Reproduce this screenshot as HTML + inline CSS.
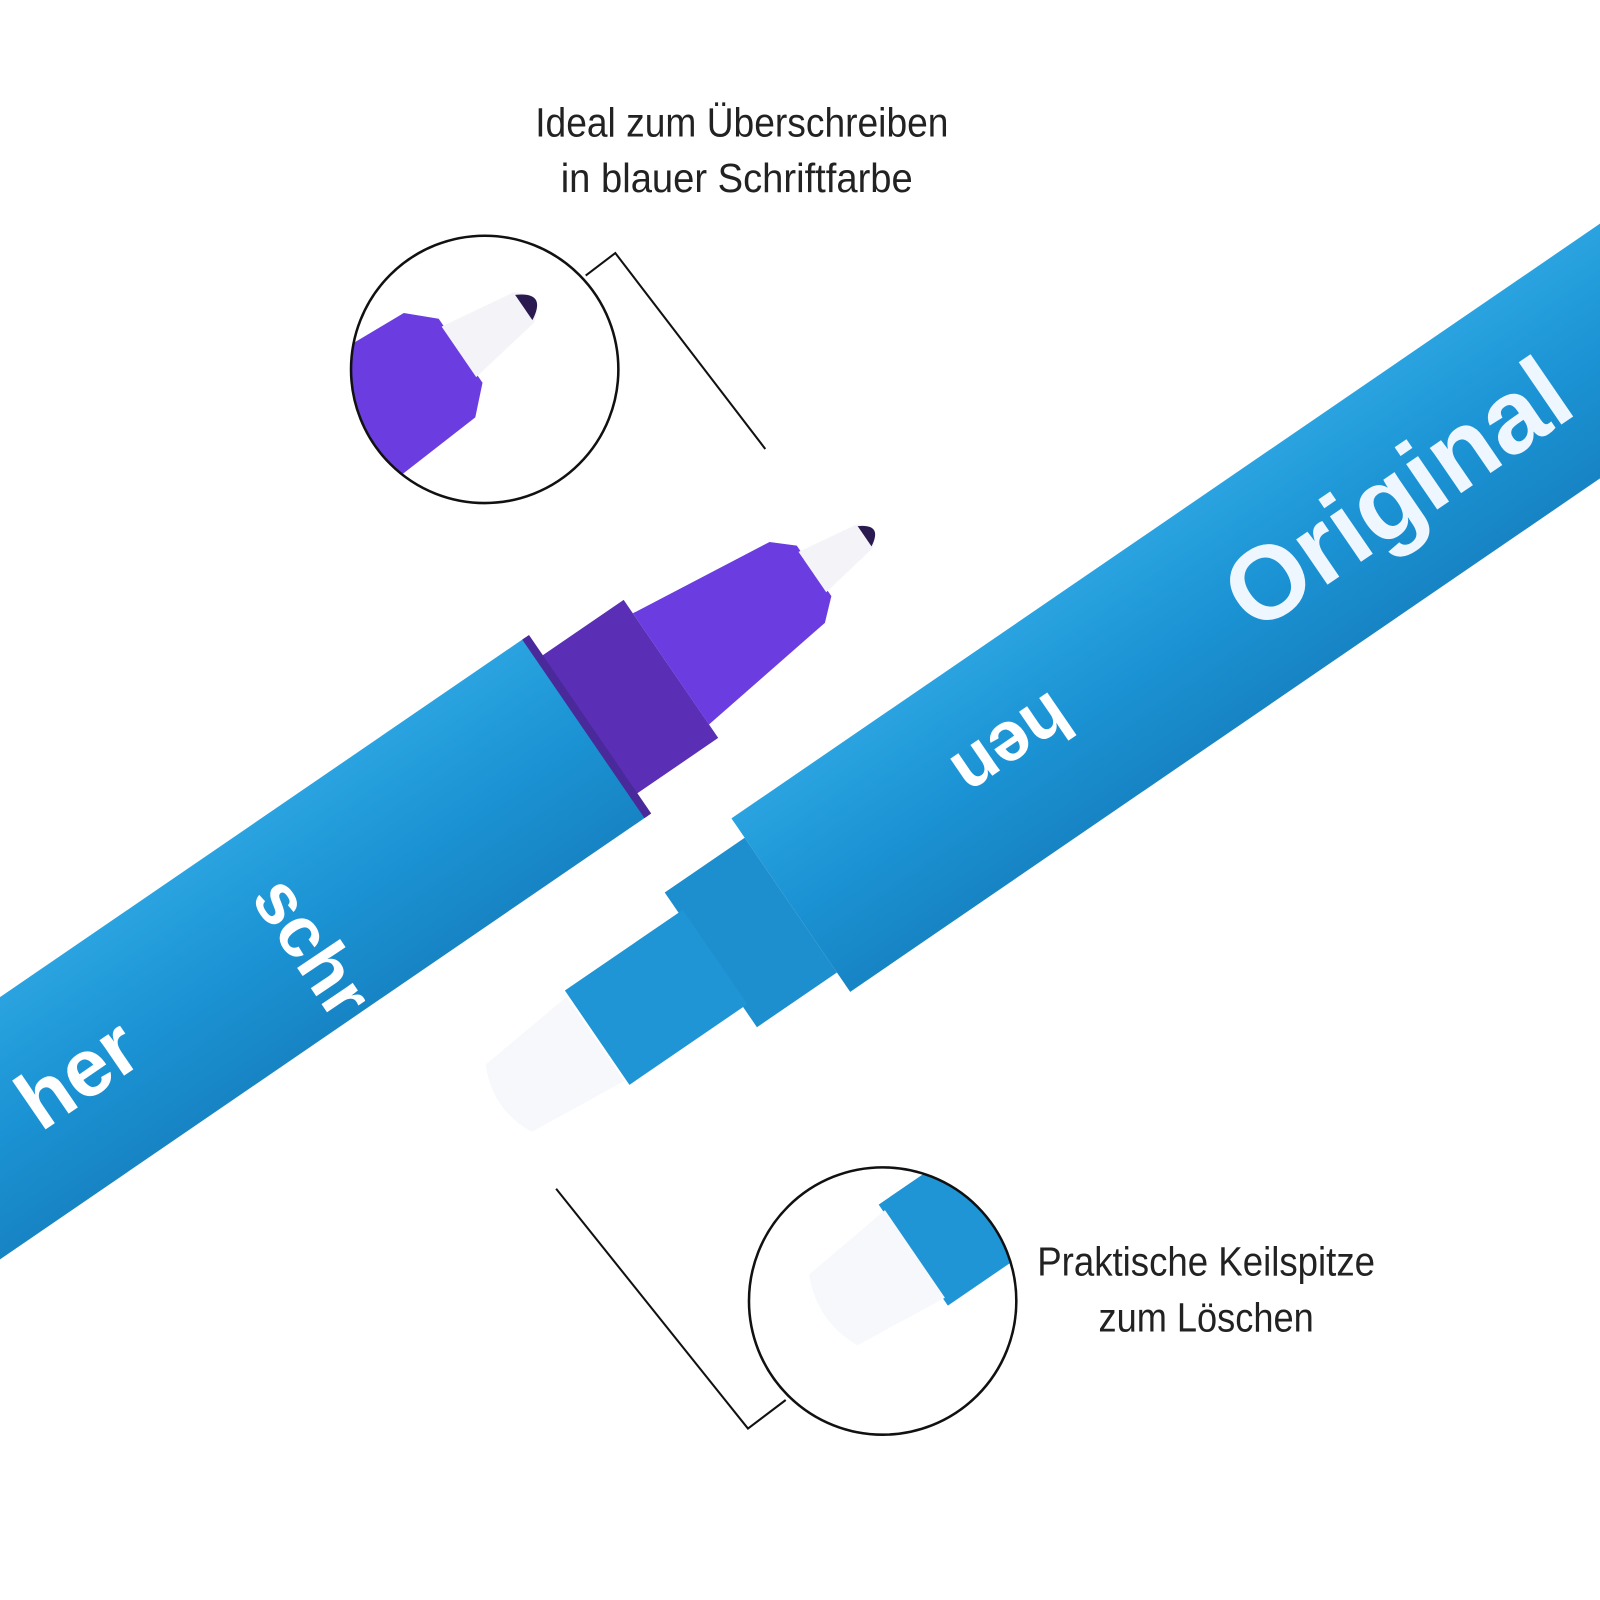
<!DOCTYPE html>
<html><head><meta charset="utf-8"><style>
html,body{margin:0;padding:0;background:#fff;}
svg{display:block;}
text{font-family:"Liberation Sans",sans-serif;}
</style></head><body>
<svg width="1600" height="1600" viewBox="0 0 1568 1568" xmlns="http://www.w3.org/2000/svg">
<defs>
<clipPath id="c1"><circle cx="475" cy="362" r="131"/></clipPath>
<clipPath id="c2"><circle cx="865" cy="1275" r="131"/></clipPath>
<linearGradient id="blu" x1="0" y1="0" x2="0" y2="1">
<stop offset="0" stop-color="#2aa3e0"/><stop offset="0.5" stop-color="#1b93d4"/><stop offset="1" stop-color="#1784c4"/></linearGradient>
</defs>
<rect width="1568" height="1568" fill="#fff"/>

<!-- Left pen -->
<g transform="translate(575,712) rotate(-34.4)">
<rect x="-1000" y="-106" width="1000" height="212" fill="url(#blu)"/>
<rect x="0" y="-82" width="100" height="164" fill="#5a2fb5"/>
<rect x="-4" y="-106" width="8" height="212" fill="#4a2a9a"/>
<polygon points="100,-66 250,-48 270,-30 270,30 250,48 100,66" fill="#6b3de0"/>
<path d="M268,-24 L330,-14 Q350,0 330,14 L268,24 Z" fill="#f4f4f8"/>
<path d="M330,-12 Q352,0 330,12 Z" fill="#2a1a50"/>
</g>
<text x="0" y="0" transform="translate(245,880) rotate(56)" font-size="70" font-weight="bold" fill="#fff">schr</text>
<text x="0" y="0" transform="translate(40,1110) rotate(-34.4)" font-size="80" font-weight="bold" fill="#fff">her</text>

<!-- Right pen -->
<g transform="translate(775,887) rotate(-34.4)">
<rect x="0" y="-103" width="1200" height="206" fill="url(#blu)"/>
<rect x="-95" y="-80" width="95" height="160" fill="#1d8fcf"/>
<rect x="-230" y="-56" width="140" height="112" fill="#1f95d6"/>
<path d="M-232,-50 L-335,-40 Q-355,0 -335,40 L-232,50 Z" fill="#f6f8fc"/>
<text x="525" y="38" font-size="102" font-weight="bold" fill="#eef7ff">Original</text>
<text x="330" y="-30" transform="rotate(180,330,-30)" font-size="70" font-weight="bold" fill="#fff">hen</text>
</g>

<!-- Circle 1 contents -->
<g clip-path="url(#c1)">
<g transform="translate(340,420) rotate(-34.4)">
<polygon points="-100,-75 110,-62 135,-38 135,38 110,62 -100,75" fill="#6b3de0"/>
<path d="M133,-30 L210,-18 Q235,0 210,18 L133,30 Z" fill="#f4f4f8"/>
<path d="M210,-15 Q238,0 210,15 Z" fill="#2a1a50"/>
</g>
</g>
<circle cx="475" cy="362" r="131" fill="none" stroke="#111" stroke-width="2.5"/>
<polyline points="574,270 603,248 750,440" fill="none" stroke="#111" stroke-width="2"/>

<!-- Circle 2 contents -->
<g clip-path="url(#c2)">
<g transform="translate(895,1230) rotate(-34.4)">
<rect x="0" y="-60" width="200" height="120" fill="#1f95d6"/>
<path d="M2,-52 L-95,-42 Q-115,0 -95,42 L2,52 Z" fill="#f6f8fc"/>
</g>
</g>
<circle cx="865" cy="1275" r="131" fill="none" stroke="#111" stroke-width="2.5"/>
<polyline points="545,1165 733,1400 770,1372" fill="none" stroke="#111" stroke-width="2"/>

<!-- Labels -->
<text x="727" y="134" text-anchor="middle" font-size="40" textLength="405" lengthAdjust="spacingAndGlyphs" fill="#222">Ideal zum Überschreiben</text>
<text x="722" y="188" text-anchor="middle" font-size="40" textLength="345" lengthAdjust="spacingAndGlyphs" fill="#222">in blauer Schriftfarbe</text>
<text x="1182" y="1250" text-anchor="middle" font-size="40" textLength="331" lengthAdjust="spacingAndGlyphs" fill="#222">Praktische Keilspitze</text>
<text x="1182" y="1305" text-anchor="middle" font-size="40" textLength="211" lengthAdjust="spacingAndGlyphs" fill="#222">zum Löschen</text>
</svg>
</body></html>
